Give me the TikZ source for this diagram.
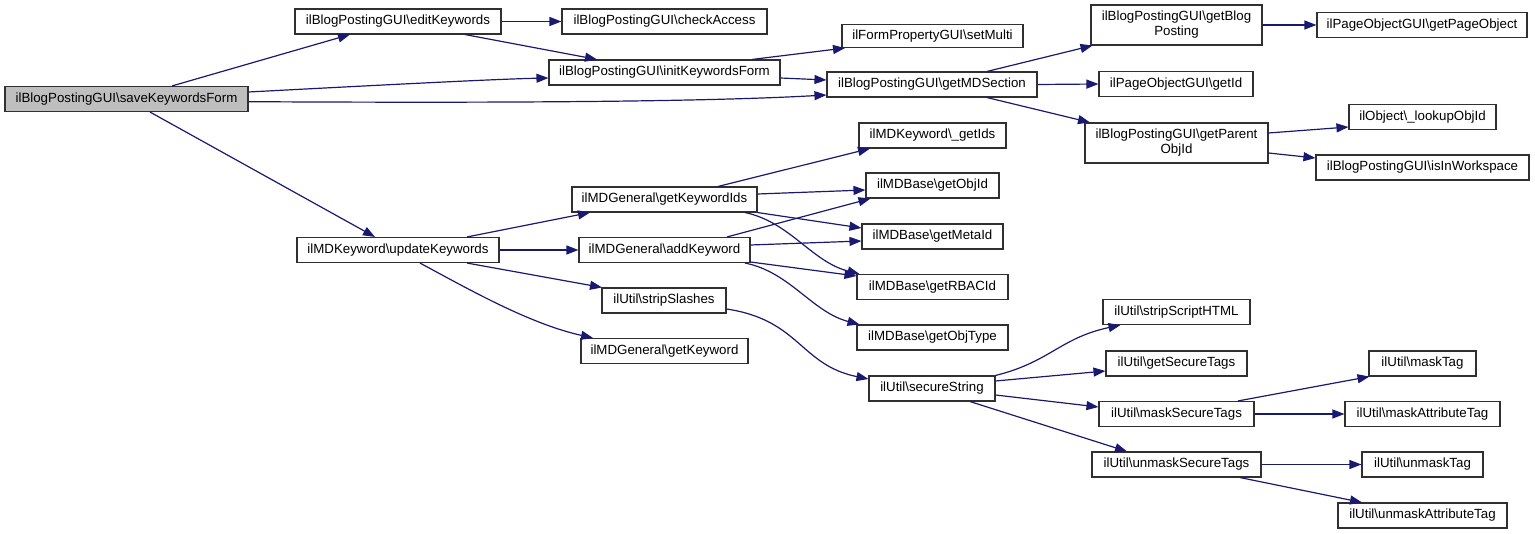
\documentclass[tikz,border=0pt]{standalone}
\usepackage{fontspec}
\setmainfont{Liberation Sans}
\usetikzlibrary{arrows.meta}
\definecolor{edgecol}{HTML}{191970}
\definecolor{boxline}{HTML}{303030}
\definecolor{rootfill}{HTML}{BFBFBF}
\begin{document}
\begin{tikzpicture}[x=1pt,y=-1pt,
  box/.style={draw=boxline, line width=1.1pt, inner sep=0pt, align=center,
    minimum height=25pt, font=\fontsize{13.3}{15}\selectfont},
  rootbox/.style={box, fill=rootfill},
  tallbox/.style={box, minimum height=40pt},
  edge/.style={draw=edgecol, line width=1.2pt, -{Triangle[length=12pt,width=9pt]}}]
\useasboundingbox (0,0) rectangle (1535,534);
% column 1
\node[rootbox, minimum width=243pt] (save) at (126.5,99) {ilBlogPostingGUI\textbackslash saveKeywordsForm};
% column 2
\node[box, minimum width=206pt] (edit) at (398,21.5) {ilBlogPostingGUI\textbackslash editKeywords};
\node[box, minimum width=202pt] (update) at (398,250) {ilMDKeyword\textbackslash updateKeywords};
% column 3
\node[box, minimum width=205pt] (check) at (664.5,21.5) {ilBlogPostingGUI\textbackslash checkAccess};
\node[box, minimum width=231pt] (init) at (664.5,72.5) {ilBlogPostingGUI\textbackslash initKeywordsForm};
\node[box, minimum width=185pt] (kwids) at (664.5,199.5) {ilMDGeneral\textbackslash getKeywordIds};
\node[box, minimum width=171pt] (addkw) at (664.5,250) {ilMDGeneral\textbackslash addKeyword};
\node[box, minimum width=124pt] (strip) at (664,300.5) {ilUtil\textbackslash stripSlashes};
\node[box, minimum width=167pt] (getkw) at (664.5,351) {ilMDGeneral\textbackslash getKeyword};
% column 4
\node[box, minimum width=181pt, minimum height=23pt] (multi) at (932.5,36) {ilFormPropertyGUI\textbackslash setMulti};
\node[box, minimum width=210pt] (mdsec) at (932,84.5) {ilBlogPostingGUI\textbackslash getMDSection};
\node[box, minimum width=147pt] (getids) at (932.5,135.5) {ilMDKeyword\textbackslash \_getIds};
\node[box, minimum width=133pt] (objid) at (932.5,185.5) {ilMDBase\textbackslash getObjId};
\node[box, minimum width=141pt] (metaid) at (932.5,236.5) {ilMDBase\textbackslash getMetaId};
\node[box, minimum width=151pt] (rbac) at (932.5,287) {ilMDBase\textbackslash getRBACId};
\node[box, minimum width=151pt] (objtype) at (932.5,337.5) {ilMDBase\textbackslash getObjType};
\node[box, minimum width=126pt] (secure) at (932,388.5) {ilUtil\textbackslash secureString};
% column 5
\node[tallbox, minimum width=171pt] (blogp) at (1176.5,25) {ilBlogPostingGUI\textbackslash getBlog\\Posting};
\node[box, minimum width=154pt] (pgid) at (1176,84) {ilPageObjectGUI\textbackslash getId};
\node[tallbox, minimum width=183pt] (parent) at (1176.5,143) {ilBlogPostingGUI\textbackslash getParent\\ObjId};
\node[box, minimum width=147pt] (sshtml) at (1176.5,312) {ilUtil\textbackslash stripScriptHTML};
\node[box, minimum width=141pt] (sectags) at (1176.5,363.5) {ilUtil\textbackslash getSecureTags};
\node[box, minimum width=155pt] (masksec) at (1176.5,414) {ilUtil\textbackslash maskSecureTags};
\node[box, minimum width=169pt] (unmasksec) at (1176.5,464.5) {ilUtil\textbackslash unmaskSecureTags};
% column 6
\node[box, minimum width=210pt] (pgobj) at (1422,25) {ilPageObjectGUI\textbackslash getPageObject};
\node[box, minimum width=147pt] (lookup) at (1422.5,117) {ilObject\textbackslash \_lookupObjId};
\node[box, minimum width=213pt] (inws) at (1422.5,167.5) {ilBlogPostingGUI\textbackslash isInWorkspace};
\node[box, minimum width=107pt] (masktag) at (1422.5,363.5) {ilUtil\textbackslash maskTag};
\node[box, minimum width=155pt] (maskattr) at (1422.5,414) {ilUtil\textbackslash maskAttributeTag};
\node[box, minimum width=121pt] (unmasktag) at (1422.5,464.5) {ilUtil\textbackslash unmaskTag};
\node[box, minimum width=169pt] (unmaskattr) at (1422.5,515.5) {ilUtil\textbackslash unmaskAttributeTag};
% edges
\path[edge] ([xshift=45.5pt]save.north) -- ([xshift=-48pt]edit.south);
\path[edge] ([yshift=7pt]save.east) .. controls (400,84) and (500,79) .. ([yshift=-5.5pt]init.west);
\path[edge] ([yshift=-2.7pt]save.east) .. controls (500,103) and (700,102) .. ([yshift=-10.5pt]mdsec.west);
\path[edge] ([xshift=23.5pt]save.south) -- ([xshift=-23pt]update.north);
\path[edge] (edit.east) -- (check.west);
\path[edge] ([xshift=67pt]edit.south) -- ([xshift=-67.5pt]init.north);
\path[edge] ([xshift=87.5pt]init.north) -- ([xshift=-87.5pt]multi.south);
\path[edge] ([yshift=-5.5pt]init.east) -- ([yshift=4.5pt]mdsec.west);
\path[edge] ([xshift=55pt]mdsec.north) -- ([xshift=-84pt]blogp.south);
\path[edge] (mdsec.east) -- (pgid.west);
\path[edge] ([xshift=55pt]mdsec.south) -- ([xshift=-86.5pt]parent.north);
\path[edge] (blogp.east) -- (pgobj.west);
\path[edge] ([yshift=10pt]parent.east) -- ([yshift=-10pt]lookup.west);
\path[edge] ([yshift=-10pt]parent.east) -- ([yshift=9.5pt]inws.west);
\path[edge] ([xshift=69pt]update.north) -- ([xshift=-74.5pt]kwids.south);
\path[edge] (update.east) -- (addkw.west);
\path[edge] ([xshift=69pt]update.south) -- ([xshift=-62pt]strip.north);
\path[edge] ([xshift=22pt]update.south) .. controls (470,290) and (530,324) .. ([xshift=-71.5pt]getkw.north);
\path[edge] ([xshift=53.5pt]kwids.north) -- ([xshift=-62.5pt]getids.south);
\path[edge] ([yshift=5.5pt]kwids.east) -- ([yshift=-4.5pt]objid.west);
\path[edge] (kwids.south east) -- ([yshift=8.5pt]metaid.west);
\path[edge] ([xshift=80.5pt]kwids.south) .. controls (790,222) and (812,262) .. ([xshift=-73pt]rbac.north);
\path[edge] ([xshift=62.5pt]addkw.north) -- ([xshift=-62pt]objid.south);
\path[edge] ([yshift=5pt]addkw.east) -- ([yshift=-4.5pt]metaid.west);
\path[edge] ([yshift=-12pt]addkw.east) -- ([yshift=11pt]rbac.west);
\path[edge] ([xshift=80.5pt]addkw.south) .. controls (790,272) and (812,312) .. ([xshift=-73pt]objtype.north);
\path[edge] ([yshift=-8.5pt]strip.east) .. controls (800,320) and (800,365) .. ([yshift=9.5pt]secure.west);
\path[edge] (secure.north east) .. controls (1050,362) and (1060,338) .. ([xshift=-56pt]sshtml.south);
\path[edge] ([yshift=7.5pt]secure.east) -- ([yshift=-7.5pt]sectags.west);
\path[edge] ([yshift=-6.5pt]secure.east) -- ([yshift=7pt]masksec.west);
\path[edge] ([xshift=38pt]secure.south) -- ([xshift=-49.5pt]unmasksec.north);
\path[edge] ([xshift=61.5pt]masksec.north) -- ([xshift=-53pt]masktag.south);
\path[edge] (masksec.east) -- (maskattr.west);
\path[edge] (unmasksec.east) -- (unmasktag.west);
\path[edge] ([xshift=63.5pt]unmasksec.south) -- ([xshift=-60.5pt]unmaskattr.north);
\end{tikzpicture}
\end{document}
